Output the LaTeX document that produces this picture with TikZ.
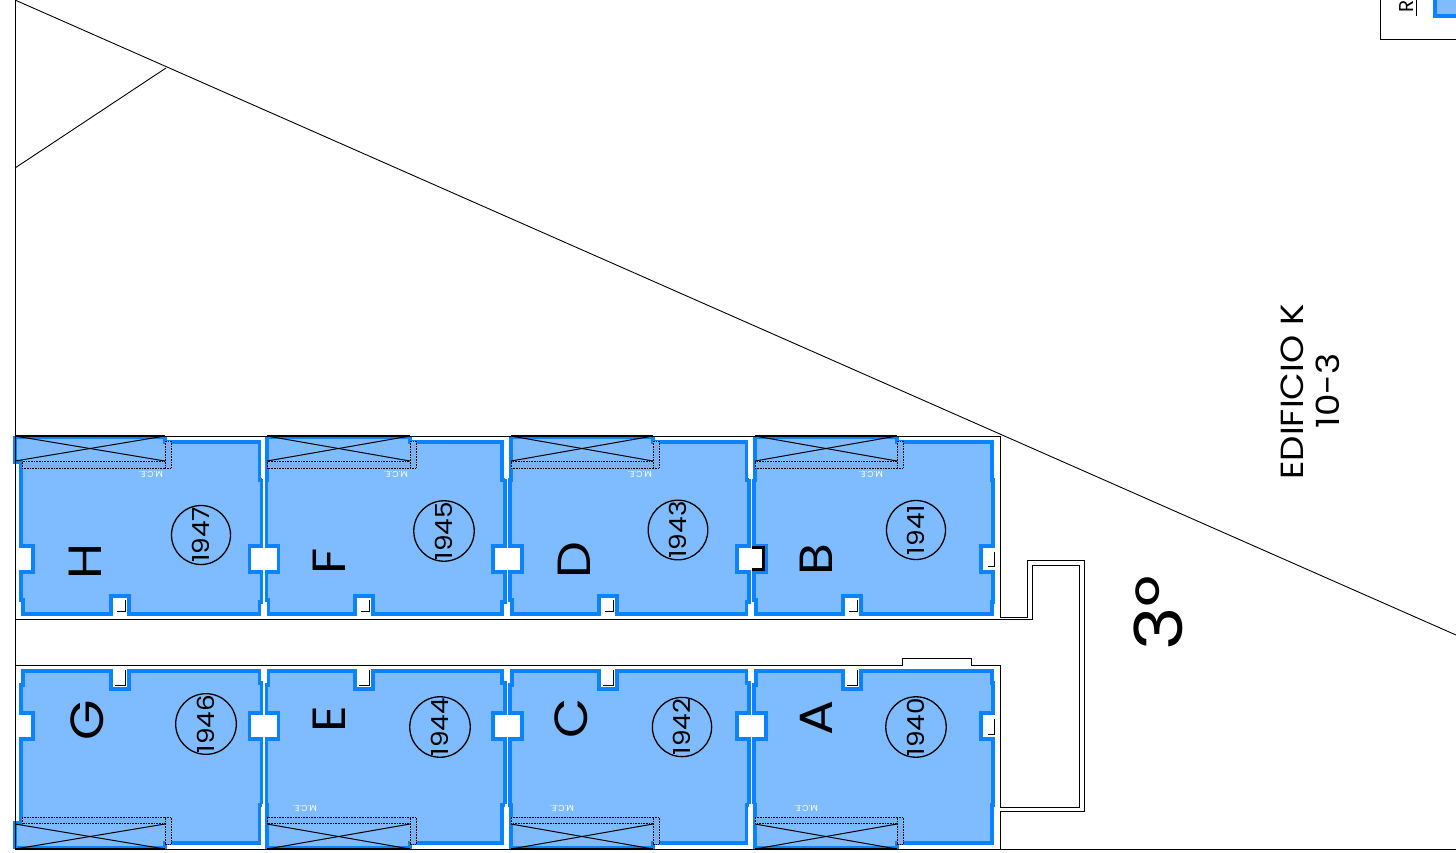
\documentclass[tikz,border=0pt]{standalone}
\usepackage{fontspec}
\setmainfont{Poppins}
\newfontfamily\widefont[FakeStretch=1.12]{Poppins}
\definecolor{wallblue}{HTML}{0B82FF}
\definecolor{roomblue}{HTML}{7FBBFF}
\definecolor{hatch}{HTML}{5C7FA8}
\tikzset{
  room/.style={fill=roomblue,draw=wallblue,line width=3.8pt,miter limit=3},
  plan/.style={draw=black,line width=0.9pt},
  cross/.style={draw=black,line width=1pt},
  strip/.style={draw=black,line width=0.6pt,densely dotted,fill=hatch!15!roomblue},
  ring/.style={circle,draw=black,line width=1.3pt,minimum size=59pt,inner sep=0pt,rotate=90,font=\widefont\fontsize{23.5}{24}\selectfont},
  letter/.style={rotate=90,inner sep=0pt,font=\widefont\fontsize{46.5}{47}\selectfont},
  mce/.style={rotate=180,inner sep=0pt,text=white,font=\fontsize{8.5}{8.5}\selectfont},
  big/.style={rotate=90,inner sep=0pt,align=center},
  opening/.style={fill=white,draw=none},
  tick/.style={draw=black,line width=0.9pt}
}
% #1 L, #2 R, #3 right step, #4 closet left, #5 closet right, #6 notch centre, #7 closet step y
\newcommand{\planroom}[7]{%
  \path[room] (#5,442) -- (#2,442) -- (#2,480) -- ({#2+#3},480) -- ({#2+#3},546) -- ({#2+#3-12},546) -- ({#2+#3-12},572) -- ({#2+#3},572) -- ({#2+#3},602) -- (#2,602) -- (#2,614)
   -- ({#6+9},614) -- ({#6+9},596) -- ({#6-9},596) -- ({#6-9},614) -- ({#1+2},614) -- ({#1+2},600) -- (#1,600) -- (#1,572)
   -- ({#1+12},572) -- ({#1+12},546) -- (#1,546) -- (#1,#7) -- (#4,#7) -- (#4,437.5) -- (#5,437.5) -- cycle;
  \path[strip] ({#1+1},461.5) rectangle (#5,468);
  \path[strip] (#5,441) rectangle ({#5+6},468);
  \path[cross] (#4,436) -- (#5,461);
  \path[cross] (#4,461) -- (#5,436);
  \path[draw=black,line width=1.2pt] (#4,436) -- (#5,436);
}
\newcommand{\upwin}[1]{%
  \path[opening] ({#1-6},598) rectangle ({#1+6},618);
  \path[tick] ({#1+5},600) -- ({#1+5},611) -- ({#1-3},611);
}
\newcommand{\lowwin}[1]{%
  \path[opening] ({#1-6},666) rectangle ({#1+6},686);
  \path[tick] ({#1+5},670) -- ({#1+5},685) -- ({#1-5},685);
}
\begin{document}
\begin{tikzpicture}[x=1pt,y=-1pt]
\useasboundingbox[fill=white] (0,0) rectangle (1456,852);
% upper rooms
\planroom{21}{259.5}{2}{15}{165}{120}{462}
\planroom{266.5}{502}{3}{267}{410}{364}{480}
\planroom{510}{746.5}{2.5}{511}{653}{608}{480}
\planroom{754}{992}{1}{755}{897}{852}{480}
% lower rooms
\begin{scope}[shift={(0,1285)},yscale=-1]
\planroom{21}{259.5}{2}{15}{165}{120}{462}
\planroom{266.5}{502}{3}{267}{410}{364}{480}
\planroom{510}{746.5}{2.5}{511}{653}{608}{480}
\planroom{754}{992}{1}{755}{897}{852}{480}
\end{scope}
% wall gaps
\path[opening] (262,442) rectangle (265,479);
\path[opening] (262,604) rectangle (265,618);
\path[opening] (504.5,442) rectangle (508,479);
\path[opening] (506,604) rectangle (508,618);
\path[opening] (749,442) rectangle (752.5,479);
\path[opening] (750,604) rectangle (752.5,618);
\path[opening] (262,804) rectangle (265,848);
\path[opening] (504.5,804) rectangle (508,848);
\path[opening] (749,804) rectangle (752.5,848);
% door openings
\path[opening] (253,549) rectangle (273,567);
\path[opening] (497,549) rectangle (517,567);
\path[opening] (741,549) rectangle (761,567);
\path[opening] (253,717) rectangle (273,735);
\path[opening] (497,717) rectangle (517,735);
\path[opening] (741,717) rectangle (761,735);
\path[draw=black,line width=3pt] (752,547.5) -- (763.5,547.5) -- (763.5,569.5) -- (752,569.5);
% window openings
\path[opening] (16,550) rectangle (31,567);
\path[opening] (16,717) rectangle (31,735);
\path[opening] (986,551) rectangle (996,567);
\path[tick] (994,552) -- (994,566) -- (988,566);
\path[opening] (986,718) rectangle (996,735);
\path[tick] (994,719) -- (994,734) -- (988,734);
\upwin{120}\upwin{364}\upwin{608}\upwin{852}
\lowwin{120}\lowwin{364}\lowwin{608}\lowwin{852}
% building outline
\path[plan] (15,0) -- (15,849) -- (1456,849);
\path[plan] (15,0) -- (1456,635);
\path[plan] (15,168) -- (166,68);
\path[plan] (15,436) -- (1000,436) -- (1000,617);
\path[plan] (15,619) -- (1032,619) -- (1032,565) -- (1079,565) -- (1079,807) -- (1000,807);
\path[plan] (1000,617) -- (1027,617) -- (1027,560) -- (1084,560) -- (1084,811) -- (1000,811) -- (1000,849);
\path[plan] (15,665) -- (902,665) -- (902,658) -- (971,658) -- (971,665) -- (1000,665) -- (1000,807);
% top-right corner
\path[plan] (1380,0) -- (1380,39) -- (1456,39);
\path[plan] (1416,0) -- (1416,16);
\path[fill=roomblue,draw=wallblue,line width=3.8pt] (1435,-4) rectangle (1460,16);
\node[big,font=\fontsize{20}{20}\selectfont] (r) at (1407,6) {R};
% labels
\node[ring] (c47) at (201,535) {1947};
\node[ring] (c45) at (444,531) {1945};
\node[ring] (c43) at (678,530) {1943};
\node[ring] (c41) at (916,530) {1941};
\node[ring] (c46) at (206,724) {1946};
\node[ring] (c44) at (440,727) {1944};
\node[ring] (c42) at (682,727) {1942};
\node[ring] (c40) at (916,727) {1940};
\node[letter] (lh) at (85,561) {H};
\node[letter] (lf) at (329,561) {F};
\node[letter] (ld) at (574,560) {D};
\node[letter] (lb) at (816,560) {B};
\node[letter] (lg) at (87,720) {G};
\node[letter] (le) at (329,719) {E};
\node[letter] (lc) at (571,718) {C};
\node[letter] (la) at (816,718) {A};
\node[mce] (m1) at (151,474) {M.C.E.};
\node[mce] (m2) at (396,474) {M.C.E.};
\node[mce] (m3) at (640,474) {M.C.E.};
\node[mce] (m4) at (871,474) {M.C.E.};
\node[mce] (m5) at (305,808) {M.C.E.};
\node[mce] (m6) at (562,808) {M.C.E.};
\node[mce] (m7) at (806,808) {M.C.E.};
\node[big,font=\widefont\fontsize{66}{66}\selectfont] (floor) at (1158,613) {3º};
\node[big,font=\widefont\fontsize{32}{32}\selectfont] (ed) at (1292,392) {EDIFICIO K};
\node[big,font=\widefont\fontsize{32}{32}\selectfont] (num) at (1328,391) {10-3};
\end{tikzpicture}
\end{document}
